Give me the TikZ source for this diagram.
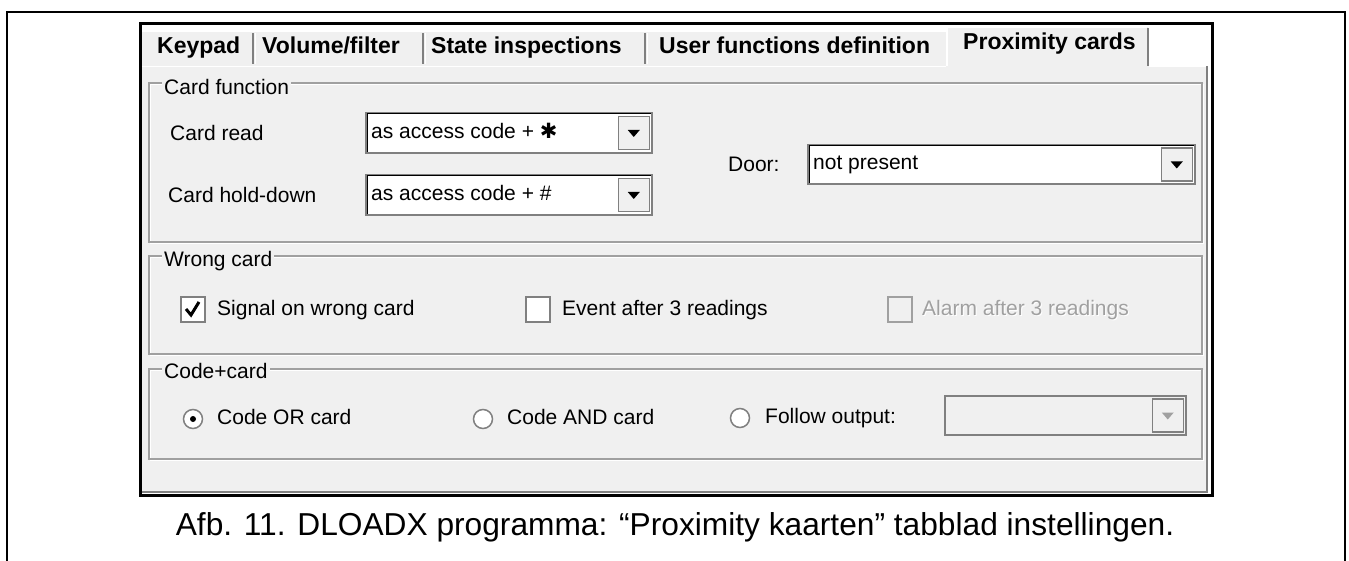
\documentclass[tikz,border=0pt]{standalone}
\usepackage{fontspec}
\setmainfont{Liberation Sans}
\newfontfamily\starfont{DejaVu Sans}
\usepackage{tikz}
\usetikzlibrary{positioning}
\definecolor{panelgray}{HTML}{F0F0F0}
\definecolor{etchgray}{HTML}{A0A0A0}
\definecolor{shadegray}{HTML}{808080}
\definecolor{offgray}{HTML}{A0A0A0}

\begin{document}
\begin{tikzpicture}[x=1pt, y=-1pt]
\tikzstyle{uitext}=[anchor=west, inner sep=0pt, font=\fontsize{21}{25}\selectfont, text height=15pt, text depth=4pt]
\tikzstyle{tabtext}=[anchor=west, inner sep=0pt, font=\fontsize{23}{27}\selectfont\bfseries, text height=16pt, text depth=5pt]
\tikzstyle{grouptitle}=[uitext, fill=panelgray, inner xsep=2pt]
\tikzstyle{etch}=[draw=etchgray, line width=1.5pt]
\tikzstyle{combo}=[draw=shadegray, fill=white, line width=2pt, minimum height=40pt, inner sep=0pt]
\tikzstyle{dropbtn}=[draw=shadegray, fill=panelgray, line width=1.5pt, minimum width=31pt, minimum height=33pt, inner sep=0pt]
\tikzstyle{checkbox}=[draw=shadegray, fill=white, line width=2pt, minimum size=24pt, inner sep=0pt]
\tikzstyle{radio}=[draw=shadegray, fill=white, line width=1.5pt, circle, minimum size=19pt, inner sep=0pt]

\useasboundingbox (0,0) rectangle (1349,561);

% page frame
\draw[line width=2pt] (7,561) -- (7,12) -- (1345,12) -- (1345,561);

% window
\fill[white] (140,24) rectangle (1212,495);
\fill[panelgray] (142,66) rectangle (1208,493);
\fill[panelgray] (142,31) rectangle (947,66);
\fill[panelgray] (947,27) rectangle (1148,66);
\draw[white, line width=1.5pt] (142,31) -- (947,31);
\draw[white, line width=1.5pt] (947,66) -- (947,27) -- (1147,27);
\draw[white, line width=1.5pt] (142,66.5) -- (946,66.5);
\draw[white, line width=1.5pt] (1149,66.5) -- (1207,66.5);
\draw[shadegray, line width=2pt] (1148,28) -- (1148,66);
\draw[shadegray, line width=2pt] (1207,66) -- (1207,492) -- (142,492);
\foreach \sx in {253, 423, 645} {
  \draw[shadegray, line width=2pt] (\sx,33) -- (\sx,64);
  \draw[white, line width=1.5pt] (\sx+2.5,33) -- (\sx+2.5,64);
}
\draw[line width=3pt] (140,24) rectangle (1212,495);

% tabs
\node[tabtext](keypad) at (157,48) {Keypad};
\node[tabtext](volume) at (262,48) {Volume/filter};
\node[tabtext](state) at (431,48) {State inspections};
\node[tabtext](userfn) at (659,48) {User functions definition};
\node[tabtext](proxtab) at (963,44) {Proximity cards};

% group boxes
\foreach \ya/\yb in {83/242, 256/354, 369/459} {
  \draw[white, line width=1.5pt] (150.5,\ya+1.5) rectangle (1203.5,\yb+1.5);
  \draw[etch] (149,\ya) rectangle (1202,\yb);
}
\node[grouptitle](cardfn) at (162,89) {Card function};
\node[grouptitle](wrong) at (162,261) {Wrong card};
\node[grouptitle](codecard) at (162,373) {Code+card};

% card function
\node[uitext](cardread) at (170,135) {Card read};
\node[uitext](holddown) at (168,197) {Card hold-down};
\node[uitext](door) at (728,166) {Door:};

\node[combo, minimum width=286pt](readbox) at (509,133) {};
\draw[black, line width=1pt] ([shift={(2,-2)}]readbox.south west) -- ([shift={(2,2)}]readbox.north west) -- ([shift={(-2,2)}]readbox.north east);
\node[uitext, right=6pt of readbox.west](readval) {as access code + {\starfont\bfseries ✱}};
\node[dropbtn, left=3pt of readbox.east](readbtn) {};
\fill (readbtn.center) ++(-6,-3) -- ++(12,0) -- ++(-6,7) -- cycle;

\node[combo, minimum width=286pt](holdbox) at (509,195) {};
\draw[black, line width=1pt] ([shift={(2,-2)}]holdbox.south west) -- ([shift={(2,2)}]holdbox.north west) -- ([shift={(-2,2)}]holdbox.north east);
\node[uitext, right=6pt of holdbox.west](holdval) {as access code + \#};
\node[dropbtn, left=3pt of holdbox.east](holdbtn) {};
\fill (holdbtn.center) ++(-6,-3) -- ++(12,0) -- ++(-6,7) -- cycle;

\node[combo, minimum width=387pt, minimum height=39pt](doorbox) at (1001.5,164.5) {};
\draw[black, line width=1pt] ([shift={(2,-2)}]doorbox.south west) -- ([shift={(2,2)}]doorbox.north west) -- ([shift={(-2,2)}]doorbox.north east);
\node[uitext, right=6pt of doorbox.west](doorval) {not present};
\node[dropbtn, left=3pt of doorbox.east](doorbtn) {};
\fill (doorbtn.center) ++(-6,-3) -- ++(12,0) -- ++(-6,7) -- cycle;

% wrong card
\node[checkbox](signalbox) at (192.5,309.5) {};
\draw[line width=3pt] (186,309) -- (191,315) -- (199,302);
\node[uitext](signal) at (217,310) {Signal on wrong card};
\node[checkbox](eventbox) at (537.5,309.5) {};
\node[uitext](event) at (562,310) {Event after 3 readings};
\node[checkbox, fill=panelgray, draw=etchgray](alarmbox) at (899.5,309.5) {};
\node[uitext, text=white](alarmsh) at (923,311) {Alarm after 3 readings};
\node[uitext, text=offgray](alarm) at (922,310) {Alarm after 3 readings};

% code+card
\node[radio](orradio) at (193,419) {};
\fill (orradio.center) circle (3pt);
\node[uitext](codeor) at (217,419) {Code OR card};
\node[radio](andradio) at (483,419) {};
\node[uitext](codeand) at (507,419) {Code AND card};
\node[radio](followradio) at (740,418) {};
\node[uitext](follow) at (765,418) {Follow output:};
\node[combo, fill=panelgray, minimum width=241pt, minimum height=39pt](outbox) at (1065.5,415.5) {};
\node[dropbtn, left=3pt of outbox.east](outbtn) {};
\fill[offgray] (outbtn.center) ++(-6,-3) -- ++(12,0) -- ++(-6,7) -- cycle;

% caption
\node[anchor=base, inner sep=0pt, font=\fontsize{31.7}{36}\selectfont](caption) at (675,535) {Afb. 11. DLOADX programma: “Proximity kaarten” tabblad instellingen.};
\end{tikzpicture}
\end{document}
